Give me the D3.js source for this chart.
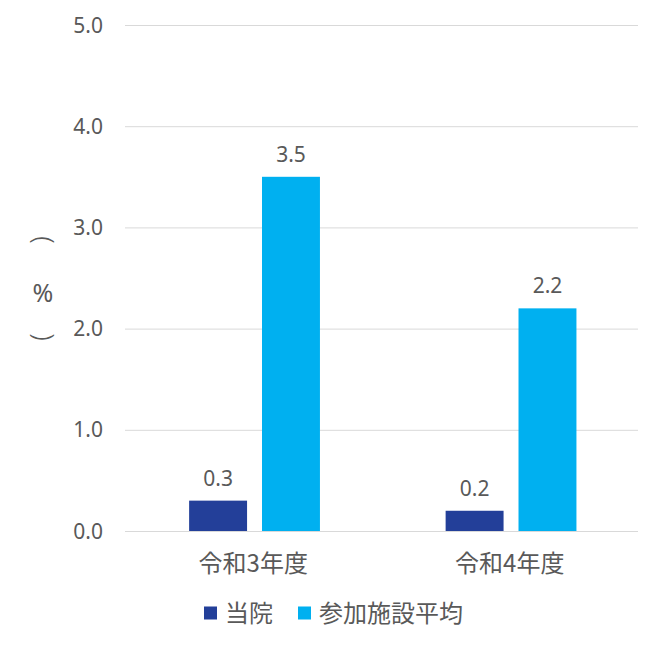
<!DOCTYPE html>
<html>
<head>
<meta charset="utf-8">
<script src="https://cdn.jsdelivr.net/npm/d3@7"></script>
<style>
  body { margin: 0; background: #fff; }
  text { font-family: "Noto Sans", "Noto Sans CJK JP", sans-serif; fill: #595959; }
  .cjk { font-family: "Noto Sans CJK JP", "Noto Sans", sans-serif; }
</style>
</head>
<body>
<div class="chart"></div>
<script>
let categories = ["令和3年度", "令和4年度"];
let seriesNames = ["当院", "参加施設平均"];
let hospital = [0.3, 0.2];
let average = [3.5, 2.2];
let yTicks = [0, 1, 2, 3, 4, 5];
let colors = ["#233F99", "#00B0F0"];

function init() {
    let margin = { top: 25, right: 25, bottom: 117, left: 125 };
    let totalWidth = 663, totalHeight = 648;
    let width = totalWidth - margin.left - margin.right;
    let height = totalHeight - margin.top - margin.bottom;

    let svg = d3.select(".chart").append("svg")
        .attr("width", totalWidth)
        .attr("height", totalHeight);

    let plot = svg.append("g")
        .attr("transform", `translate(${margin.left},${margin.top})`);

    let xScale = d3.scaleBand().domain(categories).range([0, width]);
    let inner = d3.scaleBand().domain(seriesNames)
        .range([xScale.bandwidth() * 0.25, xScale.bandwidth() * 0.76])
        .paddingInner(0.205);
    let yScale = d3.scaleLinear().domain([0, 5]).range([height, 0]);

    // gridlines
    plot.append("g").selectAll("line")
        .data(yTicks)
        .enter().append("line")
        .attr("x1", 0).attr("x2", width)
        .attr("y1", d => yScale(d) + 0.5).attr("y2", d => yScale(d) + 0.5)
        .attr("stroke", "#d9d9d9")
        .attr("stroke-width", 1);

    // y tick labels
    plot.append("g").selectAll("text")
        .data(yTicks)
        .enter().append("text")
        .attr("x", -22)
        .attr("y", d => yScale(d))
        .attr("dy", "0.36em")
        .attr("text-anchor", "end")
        .style("font-size", "21px")
        .text(d => d.toFixed(1));

    let rows = categories.map((c, i) => ({ cat: c, values: [hospital[i], average[i]] }));

    let groups = plot.selectAll(".grp")
        .data(rows)
        .enter().append("g")
        .attr("transform", d => `translate(${xScale(d.cat)},0)`);

    groups.selectAll("rect")
        .data(d => d.values.map((v, j) => ({ name: seriesNames[j], v: v, j: j })))
        .enter().append("rect")
        .attr("x", d => inner(d.name))
        .attr("width", inner.bandwidth())
        .attr("y", d => yScale(d.v))
        .attr("height", d => height - yScale(d.v))
        .attr("fill", d => colors[d.j]);

    groups.selectAll(".lbl")
        .data(d => d.values.map((v, j) => ({ name: seriesNames[j], v: v })))
        .enter().append("text")
        .attr("x", d => inner(d.name) + inner.bandwidth() / 2)
        .attr("y", d => yScale(d.v) - 15)
        .attr("text-anchor", "middle")
        .style("font-size", "21px")
        .text(d => d.v.toFixed(1));

    // category labels
    plot.append("g").selectAll("text")
        .data(categories)
        .enter().append("text")
        .attr("class", "cjk")
        .attr("x", d => xScale(d) + xScale.bandwidth() / 2)
        .attr("y", height + 32)
        .attr("dy", "0.36em")
        .attr("text-anchor", "middle")
        .style("font-size", "24px")
        .text(d => d);

    // y axis title (vertical, parens rotated)
    let yt = svg.append("g");
    yt.append("text")
        .attr("transform", "translate(43,240) rotate(90)")
        .attr("dy", "0.35em").attr("text-anchor", "middle")
        .style("font-size", "27px").style("font-weight", "300").text("(");
    yt.append("text").attr("x", 43).attr("y", 302).attr("text-anchor", "middle")
        .style("font-size", "25px").text("%");
    yt.append("text")
        .attr("transform", "translate(43,337) rotate(90)")
        .attr("dy", "0.35em").attr("text-anchor", "middle")
        .style("font-size", "27px").style("font-weight", "300").text(")");

    // legend
    let legendX = [204, 298];
    let legend = svg.append("g").selectAll("g")
        .data(seriesNames)
        .enter().append("g")
        .attr("transform", (d, i) => `translate(${legendX[i]},613)`);
    legend.append("rect")
        .attr("x", 0).attr("y", -6.5)
        .attr("width", 13).attr("height", 13)
        .attr("fill", (d, i) => colors[i]);
    legend.append("text")
        .attr("class", "cjk")
        .attr("x", 21).attr("y", 0).attr("dy", "0.36em")
        .style("font-size", "24px")
        .text(d => d);
}

init();
</script>
</body>
</html>
